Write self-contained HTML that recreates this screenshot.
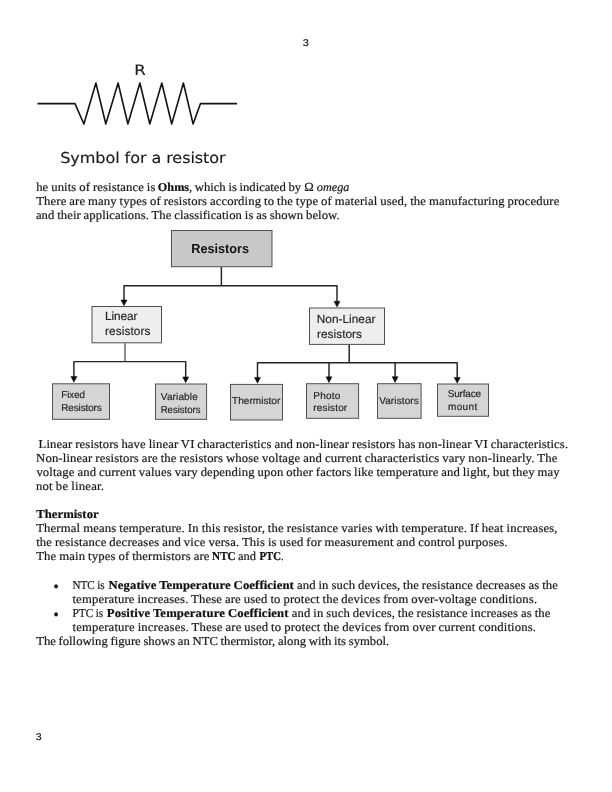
<!DOCTYPE html>
<html lang="en"><head><meta charset="utf-8"><title>Resistors</title><style>

html,body{margin:0;padding:0;background:#fff;}
body{width:612px;height:792px;position:relative;overflow:hidden;}
.l{position:absolute;white-space:pre;line-height:1;margin:0;padding:0;transform-origin:0 0;text-rendering:geometricPrecision;}
#tx{position:absolute;left:0;top:0;width:612px;height:792px;will-change:transform;opacity:0.999;}
svg{position:absolute;left:0;top:0;}
.t{font-family:"Liberation Serif", serif;font-size:12.1px;color:#1a1a1a;word-spacing:-0.4px;}
.om{font-family:"Liberation Serif", serif;font-size:12.4px;color:#1a1a1a;word-spacing:0px;}
.bl{font-family:"Liberation Serif", serif;font-size:17.0px;color:#111;word-spacing:0px;}
.v12{font-family:"DejaVu Sans", "Liberation Sans", sans-serif;font-size:14.2px;color:#1a1a1a;word-spacing:0px;}
.v15{font-family:"DejaVu Sans", "Liberation Sans", sans-serif;font-size:15.0px;color:#1a1a1a;word-spacing:0px;}
.pn{font-family:"Liberation Sans", sans-serif;font-size:9.8px;color:#1a1a1a;word-spacing:0px;}
.c14{font-family:"Liberation Sans", sans-serif;font-size:13.0px;color:#111;word-spacing:0px;}
.c12{font-family:"Liberation Sans", sans-serif;font-size:11.8px;color:#262626;word-spacing:0px;}
.c11{font-family:"Liberation Sans", sans-serif;font-size:10.0px;color:#262626;word-spacing:0px;}
.t,.om{-webkit-text-stroke:0.2px #1a1a1a;}
.t b{-webkit-text-stroke:0.22px #111;color:#111;}
.c11,.c12{-webkit-text-stroke:0.18px #262626;}
.v12,.v15{-webkit-text-stroke:0.15px #1a1a1a;}
.pn{-webkit-text-stroke:0.2px #1a1a1a;}

</style></head><body>
<svg width="612" height="792" viewBox="0 0 612 792">
<g fill="none" stroke="#141414" stroke-width="1.6" stroke-linejoin="round" stroke-linecap="butt">
<polyline points="37.5,103.6 75,103.6 83.9,124.0 95.9,83.0 105.8,124.0 118.1,83.0 127.9,124.0 139.9,83.0 149.8,124.0 161.8,83.0 171.7,124.0 183.4,83.0 193.1,124.0 200.5,103.6 237,103.6"/>
</g>
<g fill="none" stroke="#222" stroke-width="1.45" stroke-linejoin="round">
<path d="M221.4 267 V285.7 M124 302 V285.7 H337 V303"/>
<path d="M73.9 378 V361.6 H185.7 V378"/>
<path d="M125 343.2 V361.6" stroke="#505050" stroke-width="1.3"/>
<path d="M349.2 344.8 V362.7 M257.5 379 V362.7 H457.2 V379 M329 362.7 V378 M395.1 362.7 V378"/>
</g>
<g stroke="#505050" stroke-width="1">
<rect x="171.5" y="230.5" width="100.5" height="36.2" fill="#c8c8c8"/>
<rect x="92.0" y="306.5" width="69.5" height="36.3" fill="#eeeeee"/>
<rect x="309.5" y="308.0" width="75.0" height="36.4" fill="#eeeeee"/>
<rect x="52.5" y="383.8" width="57.0" height="35.5" fill="#d5d5d5"/>
<rect x="155.5" y="384.0" width="51.1" height="35.3" fill="#d5d5d5"/>
<rect x="230.5" y="384.4" width="52.0" height="35.6" fill="#d5d5d5"/>
<rect x="306.5" y="383.7" width="52.1" height="34.6" fill="#d5d5d5"/>
<rect x="377.5" y="383.7" width="43.6" height="34.6" fill="#d5d5d5"/>
<rect x="437.5" y="384.0" width="51.0" height="32.3" fill="#d5d5d5"/>
</g>
<g fill="#0c0c0c" stroke="#0c0c0c" stroke-width="0.5" stroke-linejoin="round">
<path d="M121.00 299.95 h6.0 l-3.0 5.8z"/>
<path d="M334.00 301.25 h6.0 l-3.0 5.8z"/>
<path d="M70.90 376.55 h6.0 l-3.0 5.8z"/>
<path d="M182.70 376.95 h6.0 l-3.0 5.8z"/>
<path d="M254.50 377.45 h6.0 l-3.0 5.8z"/>
<path d="M326.00 376.85 h6.0 l-3.0 5.8z"/>
<path d="M392.10 376.65 h6.0 l-3.0 5.8z"/>
<path d="M454.20 377.45 h6.0 l-3.0 5.8z"/>
</g>
</svg>

<div id="tx">
<div class="l t" id="L0" style="left:36px;top:181px;letter-spacing:0.097px;transform:translate(0.16px,0.00px) scaleX(1.0500);">he units of resistance is</div>
<div class="l t" id="L1" style="left:157px;top:181px;transform:translate(0.86px,0.00px) scaleX(1.0099);"><b>Ohms</b></div>
<div class="l t" id="L2" style="left:188px;top:181px;letter-spacing:-0.031px;transform:translate(0.93px,0.00px) scaleX(1.0500);">, which is indicated by</div>
<div class="l om" id="L3" style="left:304px;top:181px;transform:translate(0.36px,0.00px) scaleX(1.0306);">&#937;</div>
<div class="l t" id="L4" style="left:316px;top:181px;transform:translate(0.77px,0.00px) scaleX(1.0124);"><i>omega</i></div>
<div class="l t" id="L5" style="left:36px;top:195px;letter-spacing:0.119px;transform:translate(0.16px,0.00px) scaleX(1.0500);">There are many types of resistors according to the type of material used, the manufacturing procedure</div>
<div class="l t" id="L6" style="left:35px;top:209px;letter-spacing:0.055px;transform:translate(0.93px,0.00px) scaleX(1.0500);">and their applications. The classification is as shown below.</div>
<div class="l t" id="L7" style="left:38px;top:438px;letter-spacing:0.102px;transform:translate(0.62px,0.00px) scaleX(1.0500);">Linear resistors have linear VI characteristics and non-linear resistors has non-linear VI characteristics.</div>
<div class="l t" id="L8" style="left:36px;top:452px;letter-spacing:0.133px;transform:translate(0.08px,0.00px) scaleX(1.0500);">Non-linear resistors are the resistors whose voltage and current characteristics vary non-linearly. The</div>
<div class="l t" id="L9" style="left:36px;top:466px;letter-spacing:0.114px;transform:translate(0.38px,0.00px) scaleX(1.0500);">voltage and current values vary depending upon other factors like temperature and light, but they may</div>
<div class="l t" id="L10" style="left:35px;top:480px;letter-spacing:0.220px;transform:translate(0.93px,0.00px) scaleX(1.0500);">not be linear.</div>
<div class="l t" id="L11" style="left:36px;top:508px;letter-spacing:0.048px;transform:translate(0.16px,0.00px) scaleX(1.0500);"><b>Thermistor</b></div>
<div class="l t" id="L12" style="left:36px;top:522px;letter-spacing:0.147px;transform:translate(0.16px,0.00px) scaleX(1.0500);">Thermal means temperature. In this resistor, the resistance varies with temperature. If heat increases,</div>
<div class="l t" id="L13" style="left:36px;top:536px;letter-spacing:0.134px;transform:translate(0.16px,0.00px) scaleX(1.0500);">the resistance decreases and vice versa. This is used for measurement and control purposes.</div>
<div class="l t" id="L14" style="left:36px;top:550px;letter-spacing:0.130px;transform:translate(0.16px,0.00px) scaleX(1.0500);">The main types of thermistors are</div>
<div class="l t" id="L15" style="left:212px;top:550px;transform:translate(0.12px,0.00px) scaleX(0.9177);"><b>NTC</b></div>
<div class="l t" id="L16" style="left:237px;top:550px;transform:translate(0.93px,0.00px) scaleX(1.0260);">and</div>
<div class="l t" id="L17" style="left:259px;top:550px;transform:translate(0.50px,0.00px) scaleX(0.8888);"><b>PTC</b>.</div>
<div class="l bl" id="L18" style="left:53px;top:578px;transform:translate(0.29px,0.00px) scaleX(0.9505);">&#8226;</div>
<div class="l t" id="L19" style="left:72px;top:579px;transform:translate(0.46px,0.00px) scaleX(0.9214);">NTC is</div>
<div class="l t" id="L20" style="left:108px;top:579px;letter-spacing:0.093px;transform:translate(0.50px,0.00px) scaleX(1.0500);"><b>Negative Temperature Coefficient</b></div>
<div class="l t" id="L21" style="left:296px;top:579px;letter-spacing:0.110px;transform:translate(0.93px,0.00px) scaleX(1.0500);">and in such devices, the resistance decreases as the</div>
<div class="l t" id="L22" style="left:72px;top:593px;letter-spacing:0.125px;transform:translate(0.46px,0.00px) scaleX(1.0500);">temperature increases. These are used to protect the devices from over-voltage conditions.</div>
<div class="l bl" id="L23" style="left:53px;top:606px;transform:translate(0.29px,0.00px) scaleX(0.9505);">&#8226;</div>
<div class="l t" id="L24" style="left:72px;top:607px;transform:translate(0.46px,0.00px) scaleX(0.9358);">PTC is</div>
<div class="l t" id="L25" style="left:106px;top:607px;letter-spacing:0.133px;transform:translate(0.81px,0.00px) scaleX(1.0500);"><b>Positive Temperature Coefficient</b></div>
<div class="l t" id="L26" style="left:291px;top:607px;letter-spacing:0.106px;transform:translate(0.77px,0.00px) scaleX(1.0500);">and in such devices, the resistance increases as the</div>
<div class="l t" id="L27" style="left:72px;top:621px;letter-spacing:0.142px;transform:translate(0.46px,0.00px) scaleX(1.0500);">temperature increases. These are used to protect the devices from over current conditions.</div>
<div class="l t" id="L28" style="left:36px;top:635px;letter-spacing:-0.019px;transform:translate(0.16px,0.00px) scaleX(1.0500);">The following figure shows an NTC thermistor, along with its symbol.</div>
<div class="l v12" id="L29" style="left:134px;top:64px;transform:translate(0.27px,0.00px) scaleX(1.1683);">R</div>
<div class="l v15" id="L30" style="left:60px;top:151px;letter-spacing:-0.077px;transform:translate(0.26px,0.00px) scaleX(1.0700);">Symbol for a resistor</div>
<div class="l pn" id="L31" style="left:302px;top:39px;transform:translate(0.77px,0.00px) scaleX(1.1136);">3</div>
<div class="l pn" id="L32" style="left:35px;top:733px;transform:translate(0.77px,0.00px) scaleX(1.0824);">3</div>
<div class="l c14" id="L33" style="left:191px;top:242px;transform:translate(0.25px,0.00px) scaleX(0.9749);"><b>Resistors</b></div>
<div class="l c12" id="L34" style="left:105px;top:311px;letter-spacing:-0.079px;transform:translate(0.10px,0.00px) scaleX(1.0000);">Linear</div>
<div class="l c12" id="L35" style="left:105px;top:326px;letter-spacing:0.107px;transform:translate(0.01px,0.00px) scaleX(1.0000);">resistors</div>
<div class="l c12" id="L36" style="left:316px;top:314px;letter-spacing:0.041px;transform:translate(0.75px,0.00px) scaleX(1.0000);">Non-Linear</div>
<div class="l c12" id="L37" style="left:316px;top:329px;letter-spacing:0.049px;transform:translate(0.98px,0.00px) scaleX(1.0000);">resistors</div>
<div class="l c11" id="L38" style="left:61px;top:391px;transform:translate(0.17px,0.00px) scaleX(0.9750);">Fixed</div>
<div class="l c11" id="L39" style="left:61px;top:404px;letter-spacing:-0.137px;transform:translate(0.17px,0.00px) scaleX(1.0000);">Resistors</div>
<div class="l c11" id="L40" style="left:160px;top:393px;letter-spacing:0.132px;transform:translate(0.85px,0.00px) scaleX(1.0000);">Variable</div>
<div class="l c11" id="L41" style="left:160px;top:406px;transform:translate(0.67px,0.00px) scaleX(0.9569);">Resistors</div>
<div class="l c11" id="L42" style="left:231px;top:397px;letter-spacing:0.065px;transform:translate(0.96px,0.00px) scaleX(1.0000);">Thermistor</div>
<div class="l c11" id="L43" style="left:313px;top:392px;letter-spacing:0.237px;transform:translate(0.32px,0.00px) scaleX(1.0000);">Photo</div>
<div class="l c11" id="L44" style="left:313px;top:404px;letter-spacing:0.153px;transform:translate(0.32px,0.00px) scaleX(1.0000);">resistor</div>
<div class="l c11" id="L45" style="left:379px;top:397px;letter-spacing:0.111px;transform:translate(0.15px,0.00px) scaleX(1.0000);">Varistors</div>
<div class="l c11" id="L46" style="left:447px;top:390px;letter-spacing:-0.190px;transform:translate(0.74px,0.00px) scaleX(1.0000);">Surface</div>
<div class="l c11" id="L47" style="left:448px;top:403px;letter-spacing:0.336px;transform:translate(0.02px,0.00px) scaleX(1.0000);">mount</div>
</div></body></html>
